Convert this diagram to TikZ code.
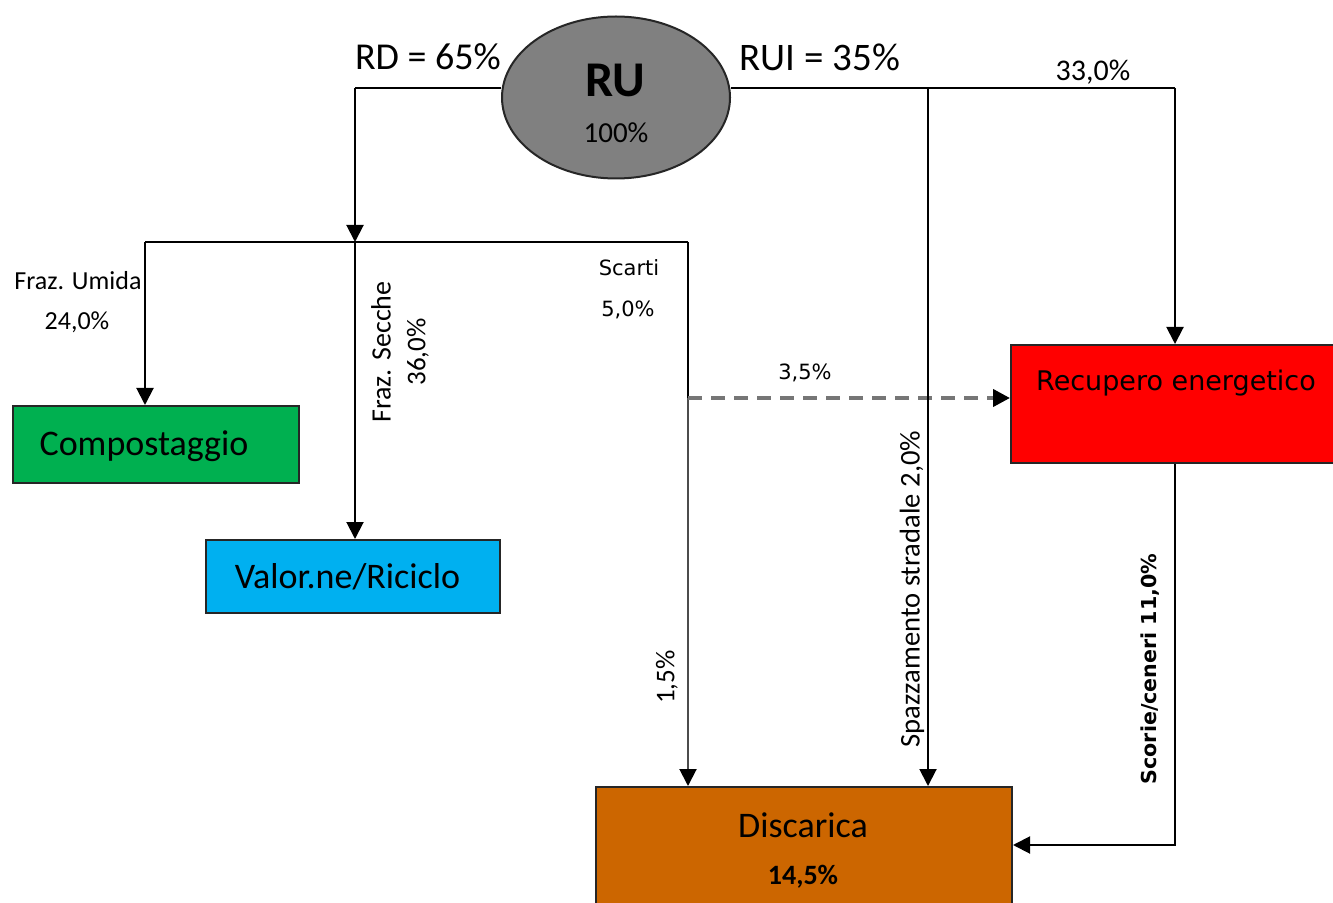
\documentclass[tikz,border=0pt]{standalone}
\usepackage{fontspec}
\setmainfont{Carlito}
\newfontfamily\comicfont{DejaVu Sans}
\usetikzlibrary{arrows.meta,shapes.geometric}
\definecolor{compgreen}{HTML}{00B050}
\definecolor{valcyan}{HTML}{00B0F0}
\definecolor{recred}{HTML}{FF0000}
\definecolor{discorange}{HTML}{CC6600}
\definecolor{rugray}{HTML}{808080}
\definecolor{edgegray}{HTML}{262626}
\definecolor{dashgray}{HTML}{767676}
\newcommand{\fs}[1]{\fontsize{#1}{#1}\selectfont}
\tikzset{
  flow/.style={draw=black, line width=1pt},
  arr/.style={flow, -{Triangle[length=8.5pt,width=8.5pt,color=black]}},
  boxnode/.style={draw=edgegray, line width=1pt, rectangle, inner sep=0pt},
  lbl/.style={inner sep=0pt, text=black},
  dasharr/.style={draw=dashgray, line width=2pt, dash pattern=on 7pt off 4.5pt,
    -{Triangle[length=8.5pt,width=8.5pt,fill=black,color=black]}},
}
\begin{document}
\begin{tikzpicture}[x=0.5pt,y=-0.5pt]
\useasboundingbox (0,0) rectangle (1333,903);
\clip (0,0) rectangle (1333,903);

% source ellipse
\node[ellipse, draw=edgegray, line width=1pt, fill=rugray, minimum width=114pt,
      minimum height=81pt, inner sep=0pt] (ru) at (616,97.5) {};
\node[lbl] (ruT) at (615,80) {\fs{25}\bfseries RU};
\node[lbl] (ruP) at (616,133) {\fs{14.5}100\%};

% destination boxes
\node[boxnode, fill=compgreen, minimum width=143pt, minimum height=38.5pt] (comp) at (156,444.5) {};
\node[lbl] (compT) at (144,446) {\fs{18}Compostaggio};
\node[boxnode, fill=valcyan, minimum width=147pt, minimum height=36.5pt] (valor) at (353,576.5) {};
\node[lbl] (valorT) at (347.5,577) {\fs{18}Valor.ne/Riciclo};
\node[boxnode, fill=recred, minimum width=164pt, minimum height=59pt] (recu) at (1175,404) {};
\node[lbl] (recuT) at (1176,383) {\comicfont\fs{13.5}Recupero energetico};
\node[boxnode, fill=discorange, minimum width=208pt, minimum height=80pt] (disc) at (804,867) {};
\node[lbl] (discT) at (803,825) {\fs{18}Discarica};
\node[lbl] (discP) at (803,877) {\fs{14}\bfseries 14,5\%};

% junction points
\coordinate (rdC) at (355,88);
\coordinate (rdS) at (355,242);
\coordinate (lft) at (145,242);
\coordinate (rgt) at (688,242);
\coordinate (dsh) at (688,398);
\coordinate (ruiC) at (1175,88);
\coordinate (spz) at (928,88);
\coordinate (scC) at (1175,845);

% separate collection branch
\draw[flow] (ru.west |- rdC) -- (rdC);
\draw[arr] (rdC) -- (rdS);
\draw[flow] (lft) -- (rgt);
\draw[arr] (lft) -- (lft |- comp.north);
\draw[arr] (rdS) -- (rdS |- valor.north);
\draw[flow] (rgt) -- (dsh);
\draw[arr, draw=black!70] (dsh) -- (dsh |- disc.north);
\draw[dasharr] (dsh) -- (dsh -| recu.west);

% undifferentiated branch
\draw[flow] (ru.east |- ruiC) -- (ruiC);
\draw[arr] (ruiC) -- (recu.north);
\draw[arr] (spz) -- (spz |- disc.north);
\draw[arr] (recu.south) |- (disc.east |- scC);

% flow labels
\node[lbl] (rdL) at (428,57) {\fs{19}RD = 65\%};
\node[lbl] (ruiL) at (820,57) {\fs{19.5}RUI = 35\%};
\node[lbl] (p33) at (1093,72) {\fs{15}33,0\%};
\node[lbl] (umL) at (78,281) {\fs{13}Fraz. Umida};
\node[lbl] (umP) at (77,322) {\fs{13}24,0\%};
\node[lbl, rotate=90] (seL) at (381,352) {\fs{14}Fraz. Secche};
\node[lbl, rotate=90] (seP) at (418,352) {\fs{13.5}36,0\%};
\node[lbl] (scL) at (629,268) {\comicfont\fs{10.5}Scarti};
\node[lbl] (scP) at (628,310) {\comicfont\fs{10.5}5,0\%};
\node[lbl] (p35) at (805,373) {\comicfont\fs{10.5}3,5\%};
\node[lbl, rotate=90] (p15) at (667,677) {\fs{13.5}1,5\%};
\node[lbl, rotate=90] (spL) at (912,589) {\fs{14.3}Spazzamento stradale 2,0\%};
\node[lbl, rotate=90] (scoL) at (1150,669) {\comicfont\fs{10.3}\bfseries Scorie/ceneri 11,0\%};
\end{tikzpicture}
\end{document}
